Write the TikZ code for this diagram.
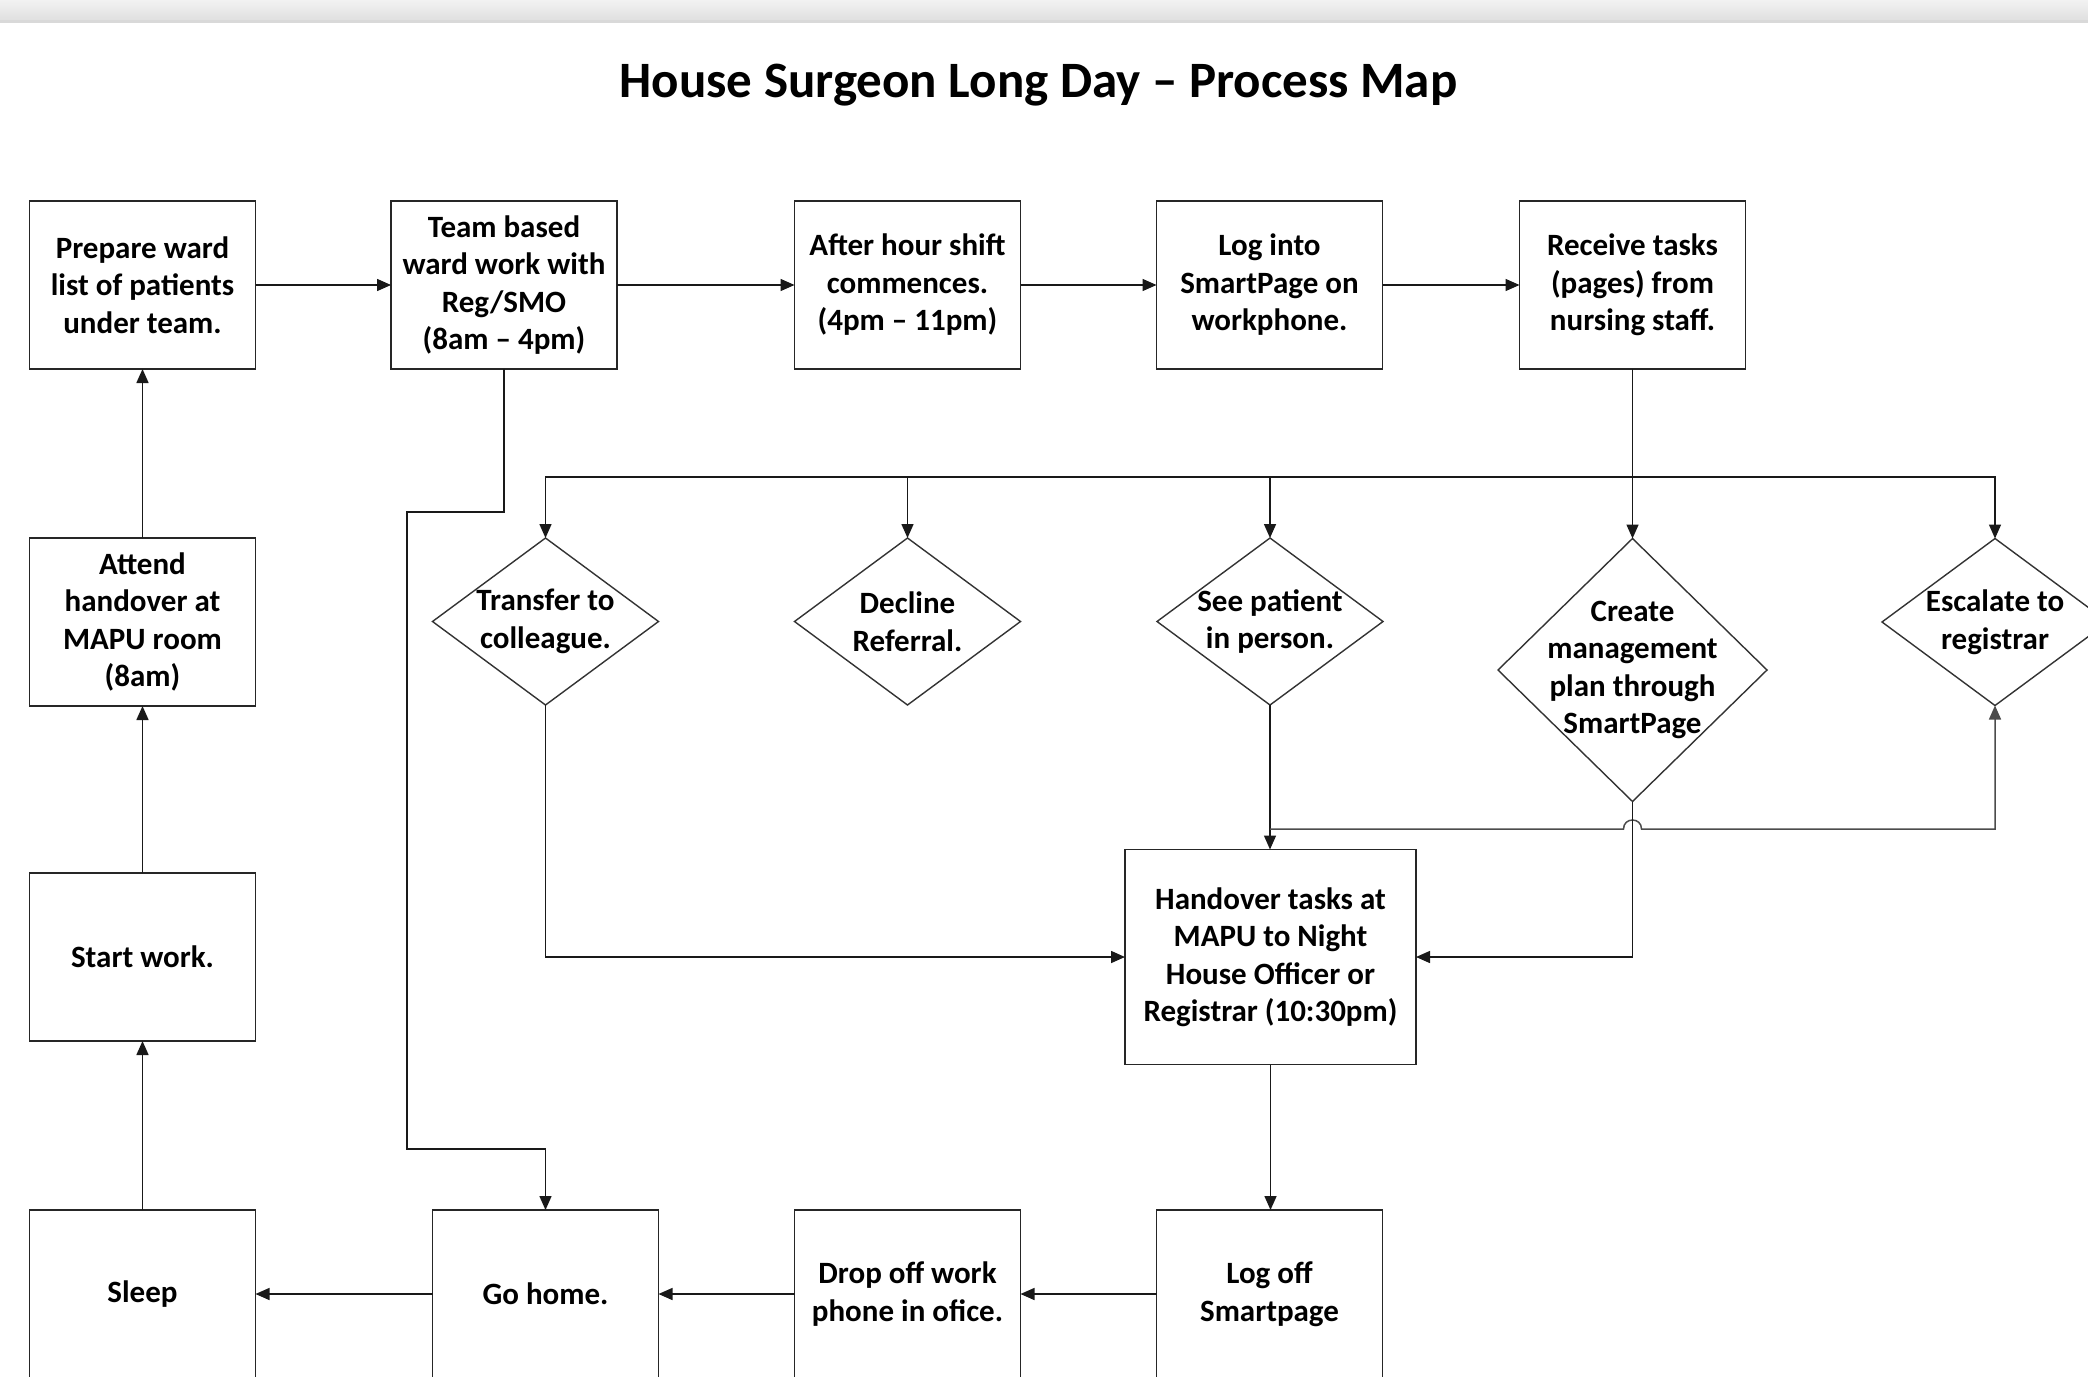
\documentclass[tikz,border=0pt]{standalone}
\usepackage{fontspec}
\setmainfont{Carlito}
\usetikzlibrary{arrows.meta,shapes.geometric}
\newcommand\boxfont{\fontsize{31}{37.5}\selectfont\bfseries}
\begin{document}
\begin{tikzpicture}[x=1pt,y=-1pt,
  box/.style={draw=black!85, line width=1.6pt, minimum width=226pt, minimum height=168pt, inner sep=0pt, outer sep=0pt, align=center, font=\boxfont},
  dia/.style={diamond, draw=black!80, line width=1.4pt, inner sep=0pt, outer sep=0pt},
  lbl/.style={align=center, font=\boxfont, inner sep=0pt},
  conn/.style={line width=1.5pt, draw=black!90, -{Triangle[length=14pt,width=12pt]}},
  plain/.style={line width=1.5pt, draw=black!90}]
\useasboundingbox (0,0) rectangle (2088,1376);
\clip (0,0) rectangle (2088,1376);
\fill[white] (0,0) rectangle (2088,1376);
% top bar
\shade[top color=black!5, bottom color=black!13] (0,0) rectangle (2088,22);
\fill[black!15] (0,20) rectangle (2088,23);
% title
\node[font=\fontsize{51}{60}\selectfont\bfseries, inner sep=0pt] (title) at (1038.5,85) {House Surgeon Long Day – Process Map};
% row 1
\node[box] (prep) at (142.5,285) {Prepare ward\\list of patients\\under team.};
\node[box] (team) at (504,285) {Team based\\ward work with\\Reg/SMO\\(8am – 4pm)};
\node[box] (after) at (907.5,285) {After hour shift\\commences.\\(4pm – 11pm)};
\node[box] (login) at (1269.5,285) {Log into\\SmartPage on\\workphone.};
\node[box] (rec) at (1632.5,285) {Receive tasks\\(pages) from\\nursing staff.};
% left column
\node[box] (att) at (142.5,622) {Attend\\handover at\\MAPU room\\(8am)};
\node[box] (start) at (142.5,957) {Start work.};
% bottom row
\node[box] (sleep) at (142.5,1294) {Sleep};
\node[box] (gohome) at (545.5,1294) {Go home.};
\node[box] (drop) at (907.5,1294) {Drop off work\\phone in ofice.};
\node[box] (logoff) at (1269.5,1294) {Log off\\Smartpage};
% handover
\node[box, minimum width=291pt, minimum height=215pt] (ho) at (1270.5,957) {Handover tasks at\\MAPU to Night\\House Officer or\\Registrar (10:30pm)};
% diamonds
\node[dia, minimum width=226pt, minimum height=167pt] (tr) at (545.5,621.5) {};
\node[lbl] (trt) at (tr) {Transfer to\\colleague.};
\node[dia, minimum width=226pt, minimum height=167pt] (dec) at (907.5,621.5) {};
\node[lbl] (dect) at (dec) {Decline\\Referral.};
\node[dia, minimum width=226pt, minimum height=167pt] (see) at (1270,621.5) {};
\node[lbl] (seet) at (see) {See patient\\in person.};
\node[dia, minimum width=269pt, minimum height=263pt] (cr) at (1632.5,670) {};
\node[lbl] (crt) at (cr) {Create\\management\\plan through\\SmartPage};
\node[dia, minimum width=226pt, minimum height=167pt] (esc) at (1995,622) {};
\node[lbl] (esct) at (esc) {Escalate to\\registrar};
% row 1 connectors
\draw[conn] (prep.east) -- (team.west);
\draw[conn] (team.east) -- (after.west);
\draw[conn] (after.east) -- (login.west);
\draw[conn] (login.east) -- (rec.west);
% bus
\coordinate (bus) at (1632.5,477);
\draw[plain] (rec.south) -- (bus);
\draw[conn] (bus) -- (cr.north);
\draw[conn] (bus) -| (tr.north);
\draw[conn] (bus) -| (dec.north);
\draw[conn] (bus) -| (see.north);
\draw[conn] (bus) -| (esc.north);
% team based to go home
\coordinate (t2) at (407,512);
\coordinate (t3) at (407,1149);
\draw[conn] (team.south) |- (t2) -- (t3) -| (gohome.north);
% diamonds to handover
\draw[conn] (tr.south) |- (ho.west);
\draw[conn] (see.south) -- (see.south |- ho.north);
\coordinate (j1) at (1270,829);
\coordinate (h1) at (1623.5,829);
\coordinate (h2) at (1641.5,829);
\draw[conn, draw=black!70] (j1) -- (h1) .. controls (1623.5,817) and (1641.5,817) .. (h2) -| (esc.south);
\draw[conn] (cr.south) |- (ho.east);
\draw[conn] (ho.south) -- (ho.south |- logoff.north);
% bottom row connectors
\draw[conn] (logoff.west) -- (drop.east);
\draw[conn] (drop.west) -- (gohome.east);
\draw[conn] (gohome.west) -- (sleep.east);
% left column connectors
\draw[conn] (sleep.north) -- (start.south);
\draw[conn] (start.north) -- (att.south);
\draw[conn] (att.north) -- (prep.south);
\end{tikzpicture}
\end{document}
